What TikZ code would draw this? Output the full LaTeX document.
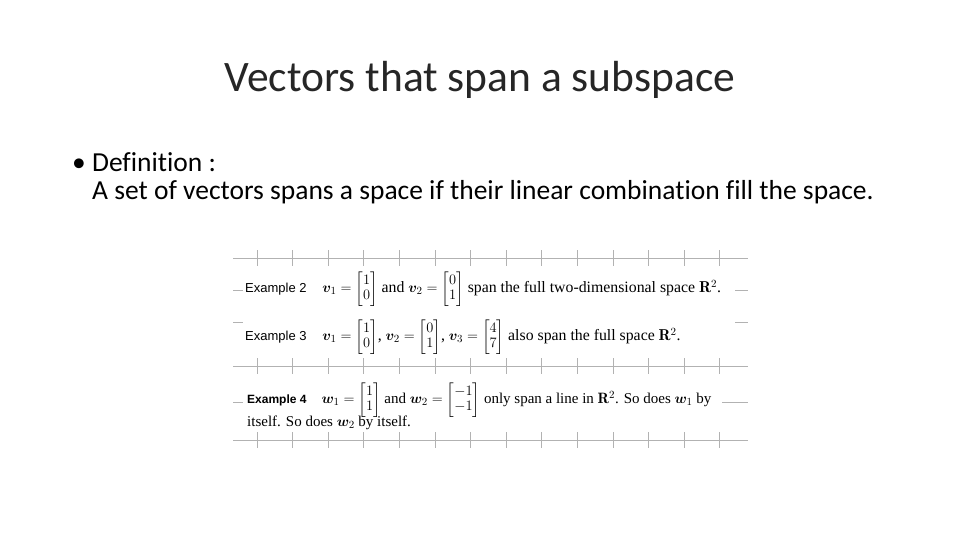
\documentclass[tikz,border=0pt]{standalone}
\usepackage{amsmath,bm}
\usepackage{fontspec}
\newfontfamily\calfnt[Ligatures=NoCommon]{Carlito}
\newfontfamily\tms{Liberation Serif}
\newfontfamily\exs{Liberation Sans}
\renewcommand{\arraystretch}{0.8}
\begin{document}
\begin{tikzpicture}[x=1pt,y=-1pt,
  grid/.style={draw=black!30,line width=0.8pt},
  ex/.style={anchor=west,inner sep=0pt}]
\useasboundingbox (0,0) rectangle (960,540);
\node[font=\calfnt\fontsize{43.5}{48}\selectfont,text=black!85] (title) at (480,80) {Vectors that span a subspace};
\node[anchor=west,font=\calfnt\fontsize{27.5}{32}\selectfont,inner sep=0pt] (b1) at (72,162) {\textbullet\ Definition :};
\node[anchor=west,font=\calfnt\fontsize{27.5}{32}\selectfont,inner sep=0pt] (b2) at (92,192) {A set of vectors spans a space if their linear combination fill the space.};
\foreach \y in {258,366,440}{
  \draw[grid] (233,\y) -- (748,\y);
  \foreach \i in {0,...,13}{\draw[grid] (257+35.6*\i,\y-8) -- (257+35.6*\i,\y+8);}
}
\draw[grid] (233,290) -- (243,290);
\draw[grid] (735,290) -- (748,290);
\draw[grid] (233,322) -- (243,322);
\draw[grid] (735,322) -- (748,322);
\draw[grid] (233,402) -- (243,402);
\draw[grid] (722,402) -- (748,402);
\node[ex,font=\tms\fontsize{15.8}{18}\selectfont] (e2) at (245,289) {{\exs\fontsize{13}{15}\selectfont Example 2}\quad $\bm{v}_1=\begin{bmatrix}1\\0\end{bmatrix}$ and $\bm{v}_2=\begin{bmatrix}0\\1\end{bmatrix}$ span the full two-dimensional space $\mathbf{R}^2$.};
\node[ex,font=\tms\fontsize{15.8}{18}\selectfont] (e3) at (245,337) {{\exs\fontsize{13}{15}\selectfont Example 3}\quad $\bm{v}_1=\begin{bmatrix}1\\0\end{bmatrix}$, $\bm{v}_2=\begin{bmatrix}0\\1\end{bmatrix}$, $\bm{v}_3=\begin{bmatrix}4\\7\end{bmatrix}$ also span the full space $\mathbf{R}^2$.};
\node[ex,font=\tms\fontsize{15}{18}\selectfont] (e4) at (247,400) {{\exs\bfseries\fontsize{12}{14}\selectfont Example 4}\quad $\bm{w}_1=\begin{bmatrix}1\\1\end{bmatrix}$ and $\bm{w}_2=\begin{bmatrix}-1\\-1\end{bmatrix}$ only span a line in $\mathbf{R}^2$. So does $\bm{w}_1$ by};
\node[ex,font=\tms\fontsize{15}{18}\selectfont] (e4b) at (247,423) {itself. So does $\bm{w}_2$ by itself.};
\end{tikzpicture}
\end{document}
